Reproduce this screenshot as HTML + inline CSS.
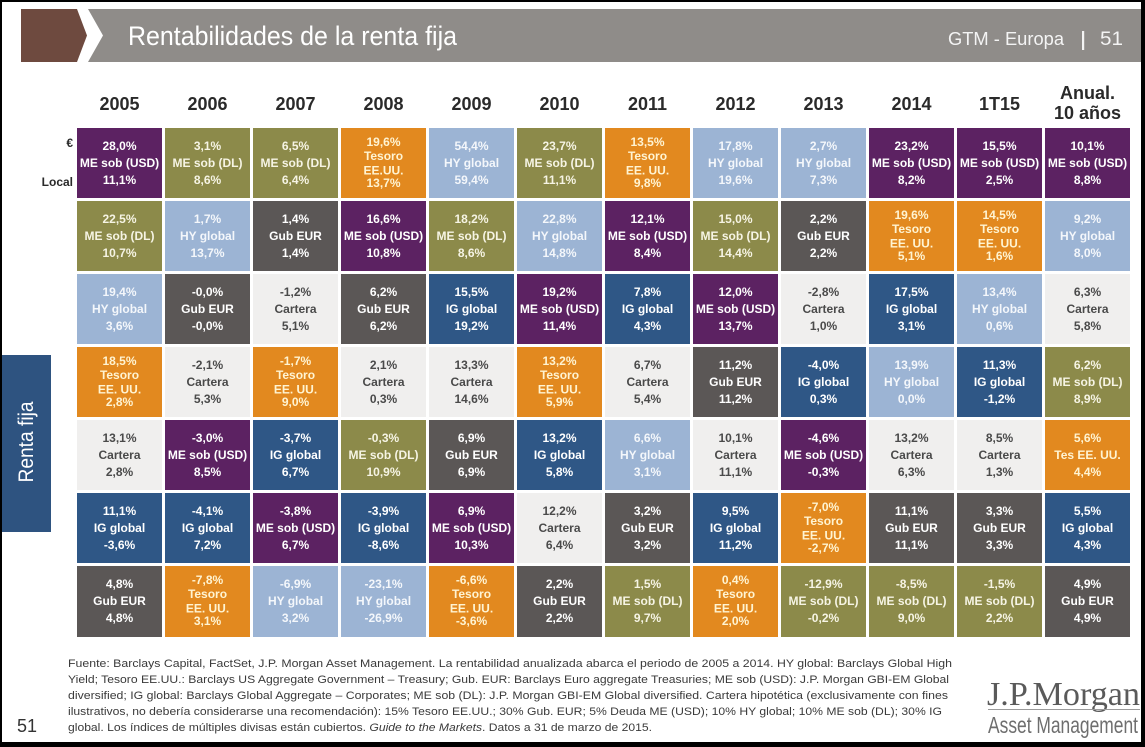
<!DOCTYPE html>
<html><head><meta charset="utf-8">
<style>
html,body{margin:0;padding:0;background:#000;}
svg{display:block;}
.c text{font-family:"Liberation Sans",Arial,sans-serif;font-weight:bold;font-size:12px;text-anchor:middle;}
.usd rect{fill:#5c2262}.usd text{fill:#ffffff}
.dl rect{fill:#8c8a4a}.dl text{fill:#f6f4e4}
.t rect{fill:#e2891f}.t text{fill:#fff4d2}
.hy rect{fill:#9cb4d4}.hy text{fill:#f4f7fb}
.gub rect{fill:#5b5756}.gub text{fill:#ffffff}
.ig rect{fill:#2f5786}.ig text{fill:#ffffff}
.ca rect{fill:#f0efee}.ca text{fill:#4a4a4a}
.yr{font-family:"Liberation Sans",Arial,sans-serif;font-weight:bold;font-size:18px;fill:#2a2a2a;text-anchor:middle;}
.ft{font-family:"Liberation Sans",Arial,sans-serif;font-size:11px;fill:#3a3a3a;}
</style></head>
<body>
<svg width="1145" height="747" viewBox="0 0 1145 747" xmlns="http://www.w3.org/2000/svg">
<rect x="0" y="0" width="1145" height="747" fill="#000"/>
<rect x="2" y="2" width="1139" height="740" fill="#ffffff"/>

<!-- header -->
<polygon points="21,9 77,9 87,35.5 77,62 21,62" fill="#6e4a3f"/>
<polygon points="88,9 1141,9 1141,62 88,62 103,35.5" fill="#8f8c89"/>
<text x="128" y="45" font-family="Liberation Sans, Arial, sans-serif" font-size="27" fill="#ffffff" textLength="329" lengthAdjust="spacingAndGlyphs">Rentabilidades de la renta fija</text>
<text x="948" y="45" font-family="Liberation Sans, Arial, sans-serif" font-size="18" fill="#f4f4f4" textLength="116" lengthAdjust="spacingAndGlyphs">GTM - Europa</text>
<rect x="1082" y="31" width="2.2" height="19" fill="#f4f4f4"/>
<text x="1100" y="45" font-family="Liberation Sans, Arial, sans-serif" font-size="19" fill="#f4f4f4" textLength="23" lengthAdjust="spacingAndGlyphs">51</text>

<!-- year headers -->
<text class="yr" x="119.5" y="110">2005</text>
<text class="yr" x="207.5" y="110">2006</text>
<text class="yr" x="295.5" y="110">2007</text>
<text class="yr" x="383.5" y="110">2008</text>
<text class="yr" x="471.5" y="110">2009</text>
<text class="yr" x="559.5" y="110">2010</text>
<text class="yr" x="647.5" y="110">2011</text>
<text class="yr" x="735.5" y="110">2012</text>
<text class="yr" x="823.5" y="110">2013</text>
<text class="yr" x="911.5" y="110">2014</text>
<text class="yr" x="999.5" y="110">1T15</text>
<text class="yr" x="1087.5" y="99">Anual.</text>
<text class="yr" x="1087.5" y="119">10 años</text>

<text x="73" y="147" font-family="Liberation Sans, Arial, sans-serif" font-weight="bold" font-size="12" fill="#2a2a2a" text-anchor="end">€</text>
<text x="73" y="186" font-family="Liberation Sans, Arial, sans-serif" font-weight="bold" font-size="12" fill="#2a2a2a" text-anchor="end">Local</text>

<!-- side tab -->
<rect x="2" y="355" width="49" height="177" fill="#2e5380"/>
<text transform="translate(33,442) rotate(-90)" x="0" y="0" text-anchor="middle" font-family="Liberation Sans, Arial, sans-serif" font-size="21" fill="#ffffff" textLength="81" lengthAdjust="spacingAndGlyphs">Renta fija</text>

<!-- ROW 1 -->
<g class="c usd" transform="translate(77,128)"><rect width="85" height="70"/><text x="42.5" y="22">28,0%</text><text x="42.5" y="39">ME sob (USD)</text><text x="42.5" y="56">11,1%</text></g>
<g class="c dl" transform="translate(165,128)"><rect width="85" height="70"/><text x="42.5" y="22">3,1%</text><text x="42.5" y="39">ME sob (DL)</text><text x="42.5" y="56">8,6%</text></g>
<g class="c dl" transform="translate(253,128)"><rect width="85" height="70"/><text x="42.5" y="22">6,5%</text><text x="42.5" y="39">ME sob (DL)</text><text x="42.5" y="56">6,4%</text></g>
<g class="c t" transform="translate(341,128)"><rect width="85" height="70"/><text x="42.5" y="18">19,6%</text><text x="42.5" y="32">Tesoro</text><text x="42.5" y="46.5">EE.UU.</text><text x="42.5" y="59">13,7%</text></g>
<g class="c hy" transform="translate(429,128)"><rect width="85" height="70"/><text x="42.5" y="22">54,4%</text><text x="42.5" y="39">HY global</text><text x="42.5" y="56">59,4%</text></g>
<g class="c dl" transform="translate(517,128)"><rect width="85" height="70"/><text x="42.5" y="22">23,7%</text><text x="42.5" y="39">ME sob (DL)</text><text x="42.5" y="56">11,1%</text></g>
<g class="c t" transform="translate(605,128)"><rect width="85" height="70"/><text x="42.5" y="18">13,5%</text><text x="42.5" y="32">Tesoro</text><text x="42.5" y="46.5">EE. UU.</text><text x="42.5" y="59">9,8%</text></g>
<g class="c hy" transform="translate(693,128)"><rect width="85" height="70"/><text x="42.5" y="22">17,8%</text><text x="42.5" y="39">HY global</text><text x="42.5" y="56">19,6%</text></g>
<g class="c hy" transform="translate(781,128)"><rect width="85" height="70"/><text x="42.5" y="22">2,7%</text><text x="42.5" y="39">HY global</text><text x="42.5" y="56">7,3%</text></g>
<g class="c usd" transform="translate(869,128)"><rect width="85" height="70"/><text x="42.5" y="22">23,2%</text><text x="42.5" y="39">ME sob (USD)</text><text x="42.5" y="56">8,2%</text></g>
<g class="c usd" transform="translate(957,128)"><rect width="85" height="70"/><text x="42.5" y="22">15,5%</text><text x="42.5" y="39">ME sob (USD)</text><text x="42.5" y="56">2,5%</text></g>
<g class="c usd" transform="translate(1045,128)"><rect width="85" height="70"/><text x="42.5" y="22">10,1%</text><text x="42.5" y="39">ME sob (USD)</text><text x="42.5" y="56">8,8%</text></g>

<!-- ROW 2 -->
<g class="c dl" transform="translate(77,201)"><rect width="85" height="70"/><text x="42.5" y="22">22,5%</text><text x="42.5" y="39">ME sob (DL)</text><text x="42.5" y="56">10,7%</text></g>
<g class="c hy" transform="translate(165,201)"><rect width="85" height="70"/><text x="42.5" y="22">1,7%</text><text x="42.5" y="39">HY global</text><text x="42.5" y="56">13,7%</text></g>
<g class="c gub" transform="translate(253,201)"><rect width="85" height="70"/><text x="42.5" y="22">1,4%</text><text x="42.5" y="39">Gub EUR</text><text x="42.5" y="56">1,4%</text></g>
<g class="c usd" transform="translate(341,201)"><rect width="85" height="70"/><text x="42.5" y="22">16,6%</text><text x="42.5" y="39">ME sob (USD)</text><text x="42.5" y="56">10,8%</text></g>
<g class="c dl" transform="translate(429,201)"><rect width="85" height="70"/><text x="42.5" y="22">18,2%</text><text x="42.5" y="39">ME sob (DL)</text><text x="42.5" y="56">8,6%</text></g>
<g class="c hy" transform="translate(517,201)"><rect width="85" height="70"/><text x="42.5" y="22">22,8%</text><text x="42.5" y="39">HY global</text><text x="42.5" y="56">14,8%</text></g>
<g class="c usd" transform="translate(605,201)"><rect width="85" height="70"/><text x="42.5" y="22">12,1%</text><text x="42.5" y="39">ME sob (USD)</text><text x="42.5" y="56">8,4%</text></g>
<g class="c dl" transform="translate(693,201)"><rect width="85" height="70"/><text x="42.5" y="22">15,0%</text><text x="42.5" y="39">ME sob (DL)</text><text x="42.5" y="56">14,4%</text></g>
<g class="c gub" transform="translate(781,201)"><rect width="85" height="70"/><text x="42.5" y="22">2,2%</text><text x="42.5" y="39">Gub EUR</text><text x="42.5" y="56">2,2%</text></g>
<g class="c t" transform="translate(869,201)"><rect width="85" height="70"/><text x="42.5" y="18">19,6%</text><text x="42.5" y="32">Tesoro</text><text x="42.5" y="46.5">EE. UU.</text><text x="42.5" y="59">5,1%</text></g>
<g class="c t" transform="translate(957,201)"><rect width="85" height="70"/><text x="42.5" y="18">14,5%</text><text x="42.5" y="32">Tesoro</text><text x="42.5" y="46.5">EE. UU.</text><text x="42.5" y="59">1,6%</text></g>
<g class="c hy" transform="translate(1045,201)"><rect width="85" height="70"/><text x="42.5" y="22">9,2%</text><text x="42.5" y="39">HY global</text><text x="42.5" y="56">8,0%</text></g>

<!-- ROW 3 -->
<g class="c hy" transform="translate(77,274)"><rect width="85" height="70"/><text x="42.5" y="22">19,4%</text><text x="42.5" y="39">HY global</text><text x="42.5" y="56">3,6%</text></g>
<g class="c gub" transform="translate(165,274)"><rect width="85" height="70"/><text x="42.5" y="22">-0,0%</text><text x="42.5" y="39">Gub EUR</text><text x="42.5" y="56">-0,0%</text></g>
<g class="c ca" transform="translate(253,274)"><rect width="85" height="70"/><text x="42.5" y="22">-1,2%</text><text x="42.5" y="39">Cartera</text><text x="42.5" y="56">5,1%</text></g>
<g class="c gub" transform="translate(341,274)"><rect width="85" height="70"/><text x="42.5" y="22">6,2%</text><text x="42.5" y="39">Gub EUR</text><text x="42.5" y="56">6,2%</text></g>
<g class="c ig" transform="translate(429,274)"><rect width="85" height="70"/><text x="42.5" y="22">15,5%</text><text x="42.5" y="39">IG global</text><text x="42.5" y="56">19,2%</text></g>
<g class="c usd" transform="translate(517,274)"><rect width="85" height="70"/><text x="42.5" y="22">19,2%</text><text x="42.5" y="39">ME sob (USD)</text><text x="42.5" y="56">11,4%</text></g>
<g class="c ig" transform="translate(605,274)"><rect width="85" height="70"/><text x="42.5" y="22">7,8%</text><text x="42.5" y="39">IG global</text><text x="42.5" y="56">4,3%</text></g>
<g class="c usd" transform="translate(693,274)"><rect width="85" height="70"/><text x="42.5" y="22">12,0%</text><text x="42.5" y="39">ME sob (USD)</text><text x="42.5" y="56">13,7%</text></g>
<g class="c ca" transform="translate(781,274)"><rect width="85" height="70"/><text x="42.5" y="22">-2,8%</text><text x="42.5" y="39">Cartera</text><text x="42.5" y="56">1,0%</text></g>
<g class="c ig" transform="translate(869,274)"><rect width="85" height="70"/><text x="42.5" y="22">17,5%</text><text x="42.5" y="39">IG global</text><text x="42.5" y="56">3,1%</text></g>
<g class="c hy" transform="translate(957,274)"><rect width="85" height="70"/><text x="42.5" y="22">13,4%</text><text x="42.5" y="39">HY global</text><text x="42.5" y="56">0,6%</text></g>
<g class="c ca" transform="translate(1045,274)"><rect width="85" height="70"/><text x="42.5" y="22">6,3%</text><text x="42.5" y="39">Cartera</text><text x="42.5" y="56">5,8%</text></g>

<!-- ROW 4 -->
<g class="c t" transform="translate(77,347)"><rect width="85" height="70"/><text x="42.5" y="18">18,5%</text><text x="42.5" y="32">Tesoro</text><text x="42.5" y="46.5">EE. UU.</text><text x="42.5" y="59">2,8%</text></g>
<g class="c ca" transform="translate(165,347)"><rect width="85" height="70"/><text x="42.5" y="22">-2,1%</text><text x="42.5" y="39">Cartera</text><text x="42.5" y="56">5,3%</text></g>
<g class="c t" transform="translate(253,347)"><rect width="85" height="70"/><text x="42.5" y="18">-1,7%</text><text x="42.5" y="32">Tesoro</text><text x="42.5" y="46.5">EE. UU.</text><text x="42.5" y="59">9,0%</text></g>
<g class="c ca" transform="translate(341,347)"><rect width="85" height="70"/><text x="42.5" y="22">2,1%</text><text x="42.5" y="39">Cartera</text><text x="42.5" y="56">0,3%</text></g>
<g class="c ca" transform="translate(429,347)"><rect width="85" height="70"/><text x="42.5" y="22">13,3%</text><text x="42.5" y="39">Cartera</text><text x="42.5" y="56">14,6%</text></g>
<g class="c t" transform="translate(517,347)"><rect width="85" height="70"/><text x="42.5" y="18">13,2%</text><text x="42.5" y="32">Tesoro</text><text x="42.5" y="46.5">EE. UU.</text><text x="42.5" y="59">5,9%</text></g>
<g class="c ca" transform="translate(605,347)"><rect width="85" height="70"/><text x="42.5" y="22">6,7%</text><text x="42.5" y="39">Cartera</text><text x="42.5" y="56">5,4%</text></g>
<g class="c gub" transform="translate(693,347)"><rect width="85" height="70"/><text x="42.5" y="22">11,2%</text><text x="42.5" y="39">Gub EUR</text><text x="42.5" y="56">11,2%</text></g>
<g class="c ig" transform="translate(781,347)"><rect width="85" height="70"/><text x="42.5" y="22">-4,0%</text><text x="42.5" y="39">IG global</text><text x="42.5" y="56">0,3%</text></g>
<g class="c hy" transform="translate(869,347)"><rect width="85" height="70"/><text x="42.5" y="22">13,9%</text><text x="42.5" y="39">HY global</text><text x="42.5" y="56">0,0%</text></g>
<g class="c ig" transform="translate(957,347)"><rect width="85" height="70"/><text x="42.5" y="22">11,3%</text><text x="42.5" y="39">IG global</text><text x="42.5" y="56">-1,2%</text></g>
<g class="c dl" transform="translate(1045,347)"><rect width="85" height="70"/><text x="42.5" y="22">6,2%</text><text x="42.5" y="39">ME sob (DL)</text><text x="42.5" y="56">8,9%</text></g>

<!-- ROW 5 -->
<g class="c ca" transform="translate(77,420)"><rect width="85" height="70"/><text x="42.5" y="22">13,1%</text><text x="42.5" y="39">Cartera</text><text x="42.5" y="56">2,8%</text></g>
<g class="c usd" transform="translate(165,420)"><rect width="85" height="70"/><text x="42.5" y="22">-3,0%</text><text x="42.5" y="39">ME sob (USD)</text><text x="42.5" y="56">8,5%</text></g>
<g class="c ig" transform="translate(253,420)"><rect width="85" height="70"/><text x="42.5" y="22">-3,7%</text><text x="42.5" y="39">IG global</text><text x="42.5" y="56">6,7%</text></g>
<g class="c dl" transform="translate(341,420)"><rect width="85" height="70"/><text x="42.5" y="22">-0,3%</text><text x="42.5" y="39">ME sob (DL)</text><text x="42.5" y="56">10,9%</text></g>
<g class="c gub" transform="translate(429,420)"><rect width="85" height="70"/><text x="42.5" y="22">6,9%</text><text x="42.5" y="39">Gub EUR</text><text x="42.5" y="56">6,9%</text></g>
<g class="c ig" transform="translate(517,420)"><rect width="85" height="70"/><text x="42.5" y="22">13,2%</text><text x="42.5" y="39">IG global</text><text x="42.5" y="56">5,8%</text></g>
<g class="c hy" transform="translate(605,420)"><rect width="85" height="70"/><text x="42.5" y="22">6,6%</text><text x="42.5" y="39">HY global</text><text x="42.5" y="56">3,1%</text></g>
<g class="c ca" transform="translate(693,420)"><rect width="85" height="70"/><text x="42.5" y="22">10,1%</text><text x="42.5" y="39">Cartera</text><text x="42.5" y="56">11,1%</text></g>
<g class="c usd" transform="translate(781,420)"><rect width="85" height="70"/><text x="42.5" y="22">-4,6%</text><text x="42.5" y="39">ME sob (USD)</text><text x="42.5" y="56">-0,3%</text></g>
<g class="c ca" transform="translate(869,420)"><rect width="85" height="70"/><text x="42.5" y="22">13,2%</text><text x="42.5" y="39">Cartera</text><text x="42.5" y="56">6,3%</text></g>
<g class="c ca" transform="translate(957,420)"><rect width="85" height="70"/><text x="42.5" y="22">8,5%</text><text x="42.5" y="39">Cartera</text><text x="42.5" y="56">1,3%</text></g>
<g class="c t" transform="translate(1045,420)"><rect width="85" height="70"/><text x="42.5" y="22">5,6%</text><text x="42.5" y="39">Tes EE. UU.</text><text x="42.5" y="56">4,4%</text></g>

<!-- ROW 6 -->
<g class="c ig" transform="translate(77,493)"><rect width="85" height="70"/><text x="42.5" y="22">11,1%</text><text x="42.5" y="39">IG global</text><text x="42.5" y="56">-3,6%</text></g>
<g class="c ig" transform="translate(165,493)"><rect width="85" height="70"/><text x="42.5" y="22">-4,1%</text><text x="42.5" y="39">IG global</text><text x="42.5" y="56">7,2%</text></g>
<g class="c usd" transform="translate(253,493)"><rect width="85" height="70"/><text x="42.5" y="22">-3,8%</text><text x="42.5" y="39">ME sob (USD)</text><text x="42.5" y="56">6,7%</text></g>
<g class="c ig" transform="translate(341,493)"><rect width="85" height="70"/><text x="42.5" y="22">-3,9%</text><text x="42.5" y="39">IG global</text><text x="42.5" y="56">-8,6%</text></g>
<g class="c usd" transform="translate(429,493)"><rect width="85" height="70"/><text x="42.5" y="22">6,9%</text><text x="42.5" y="39">ME sob (USD)</text><text x="42.5" y="56">10,3%</text></g>
<g class="c ca" transform="translate(517,493)"><rect width="85" height="70"/><text x="42.5" y="22">12,2%</text><text x="42.5" y="39">Cartera</text><text x="42.5" y="56">6,4%</text></g>
<g class="c gub" transform="translate(605,493)"><rect width="85" height="70"/><text x="42.5" y="22">3,2%</text><text x="42.5" y="39">Gub EUR</text><text x="42.5" y="56">3,2%</text></g>
<g class="c ig" transform="translate(693,493)"><rect width="85" height="70"/><text x="42.5" y="22">9,5%</text><text x="42.5" y="39">IG global</text><text x="42.5" y="56">11,2%</text></g>
<g class="c t" transform="translate(781,493)"><rect width="85" height="70"/><text x="42.5" y="18">-7,0%</text><text x="42.5" y="32">Tesoro</text><text x="42.5" y="46.5">EE. UU.</text><text x="42.5" y="59">-2,7%</text></g>
<g class="c gub" transform="translate(869,493)"><rect width="85" height="70"/><text x="42.5" y="22">11,1%</text><text x="42.5" y="39">Gub EUR</text><text x="42.5" y="56">11,1%</text></g>
<g class="c gub" transform="translate(957,493)"><rect width="85" height="70"/><text x="42.5" y="22">3,3%</text><text x="42.5" y="39">Gub EUR</text><text x="42.5" y="56">3,3%</text></g>
<g class="c ig" transform="translate(1045,493)"><rect width="85" height="70"/><text x="42.5" y="22">5,5%</text><text x="42.5" y="39">IG global</text><text x="42.5" y="56">4,3%</text></g>

<!-- ROW 7 -->
<g class="c gub" transform="translate(77,566)"><rect width="85" height="71"/><text x="42.5" y="22">4,8%</text><text x="42.5" y="39">Gub EUR</text><text x="42.5" y="56">4,8%</text></g>
<g class="c t" transform="translate(165,566)"><rect width="85" height="71"/><text x="42.5" y="18">-7,8%</text><text x="42.5" y="32">Tesoro</text><text x="42.5" y="46.5">EE. UU.</text><text x="42.5" y="59">3,1%</text></g>
<g class="c hy" transform="translate(253,566)"><rect width="85" height="71"/><text x="42.5" y="22">-6,9%</text><text x="42.5" y="39">HY global</text><text x="42.5" y="56">3,2%</text></g>
<g class="c hy" transform="translate(341,566)"><rect width="85" height="71"/><text x="42.5" y="22">-23,1%</text><text x="42.5" y="39">HY global</text><text x="42.5" y="56">-26,9%</text></g>
<g class="c t" transform="translate(429,566)"><rect width="85" height="71"/><text x="42.5" y="18">-6,6%</text><text x="42.5" y="32">Tesoro</text><text x="42.5" y="46.5">EE. UU.</text><text x="42.5" y="59">-3,6%</text></g>
<g class="c gub" transform="translate(517,566)"><rect width="85" height="71"/><text x="42.5" y="22">2,2%</text><text x="42.5" y="39">Gub EUR</text><text x="42.5" y="56">2,2%</text></g>
<g class="c dl" transform="translate(605,566)"><rect width="85" height="71"/><text x="42.5" y="22">1,5%</text><text x="42.5" y="39">ME sob (DL)</text><text x="42.5" y="56">9,7%</text></g>
<g class="c t" transform="translate(693,566)"><rect width="85" height="71"/><text x="42.5" y="18">0,4%</text><text x="42.5" y="32">Tesoro</text><text x="42.5" y="46.5">EE. UU.</text><text x="42.5" y="59">2,0%</text></g>
<g class="c dl" transform="translate(781,566)"><rect width="85" height="71"/><text x="42.5" y="22">-12,9%</text><text x="42.5" y="39">ME sob (DL)</text><text x="42.5" y="56">-0,2%</text></g>
<g class="c dl" transform="translate(869,566)"><rect width="85" height="71"/><text x="42.5" y="22">-8,5%</text><text x="42.5" y="39">ME sob (DL)</text><text x="42.5" y="56">9,0%</text></g>
<g class="c dl" transform="translate(957,566)"><rect width="85" height="71"/><text x="42.5" y="22">-1,5%</text><text x="42.5" y="39">ME sob (DL)</text><text x="42.5" y="56">2,2%</text></g>
<g class="c gub" transform="translate(1045,566)"><rect width="85" height="71"/><text x="42.5" y="22">4,9%</text><text x="42.5" y="39">Gub EUR</text><text x="42.5" y="56">4,9%</text></g>

<!-- footer -->
<text class="ft" x="68" y="667" textLength="884" lengthAdjust="spacingAndGlyphs">Fuente: Barclays Capital, FactSet, J.P. Morgan Asset Management. La rentabilidad anualizada abarca el periodo de 2005 a 2014. HY global: Barclays Global High</text>
<text class="ft" x="68" y="683" textLength="881" lengthAdjust="spacingAndGlyphs">Yield; Tesoro EE.UU.: Barclays US Aggregate Government – Treasury; Gub. EUR: Barclays Euro aggregate Treasuries; ME sob (USD): J.P. Morgan GBI-EM Global</text>
<text class="ft" x="68" y="699" textLength="880" lengthAdjust="spacingAndGlyphs">diversified; IG global: Barclays Global Aggregate – Corporates; ME sob (DL): J.P. Morgan GBI-EM Global diversified. Cartera hipotética (exclusivamente con fines</text>
<text class="ft" x="68" y="715" textLength="874" lengthAdjust="spacingAndGlyphs">ilustrativos, no debería considerarse una recomendación): 15% Tesoro EE.UU.; 30% Gub. EUR; 5% Deuda ME (USD); 10% HY global; 10% ME sob (DL); 30% IG</text>
<text class="ft" x="68" y="731" textLength="584" lengthAdjust="spacingAndGlyphs">global. Los índices de múltiples divisas están cubiertos. <tspan font-style="italic">Guide to the Markets</tspan>. Datos a 31 de marzo de 2015.</text>

<text x="17" y="732" font-family="Liberation Sans, Arial, sans-serif" font-size="18" fill="#333">51</text>

<!-- logo -->
<text x="987" y="705" font-family="Liberation Serif, Times New Roman, serif" font-size="34" fill="#5a5a5a" textLength="153" lengthAdjust="spacingAndGlyphs">J.P.Morgan</text>
<line x1="988" y1="709.5" x2="1140" y2="709.5" stroke="#9a9a9a" stroke-width="1"/>
<text x="988" y="733" font-family="Liberation Sans, Arial, sans-serif" font-size="23" fill="#6e6e6e" textLength="150" lengthAdjust="spacingAndGlyphs">Asset Management</text>
</svg>
</body></html>
